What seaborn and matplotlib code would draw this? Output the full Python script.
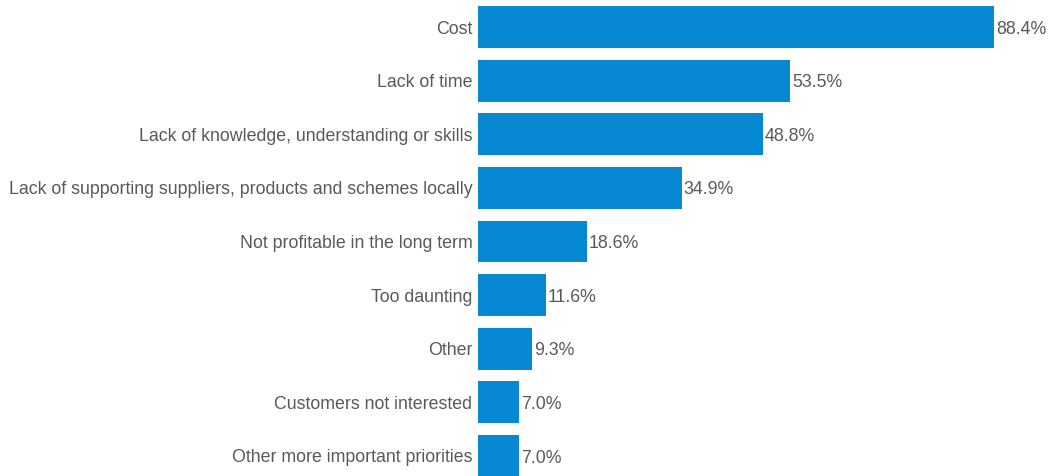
import matplotlib
matplotlib.use("Agg")
import matplotlib.pyplot as plt
import seaborn as sns
import pandas as pd

categories = [
    "Cost",
    "Lack of time",
    "Lack of knowledge, understanding or skills",
    "Lack of supporting suppliers, products and schemes locally",
    "Not profitable in the long term",
    "Too daunting",
    "Other",
    "Customers not interested",
    "Other more important priorities",
]
values = [88.4, 53.5, 48.8, 34.9, 18.6, 11.6, 9.3, 7.0, 7.0]

df = pd.DataFrame({"barrier": categories, "pct": values})

sns.set_theme(style="white")
plt.rcParams["font.family"] = ["Liberation Sans", "DejaVu Sans"]

W, H = 1049, 476
fig = plt.figure(figsize=(W / 100, H / 100), dpi=100)
left_px, right_px = 478, 1049
top_px, bottom_px = 0.2, 482.8
ax = fig.add_axes([left_px / W, (H - bottom_px) / H,
                   (right_px - left_px) / W, (bottom_px - top_px) / H])

bar_color = "#0788D3"
text_color = "#595959"
fs = 12.75

sns.barplot(data=df, x="pct", y="barrier", orient="h", color=bar_color,
            saturation=1, width=0.78, linewidth=0, ax=ax)

for i, v in enumerate(values):
    ax.annotate(f"{v:.1f}%", xy=(v, i), xytext=(1.5, -1.5),
                textcoords="offset points", va="center", ha="left",
                fontsize=fs, color=text_color)

ax.set_xlim(0, 97.8)
ax.set_ylim(8.5, -0.5)
ax.set_xlabel("")
ax.set_ylabel("")
ax.set_xticks([])
ax.tick_params(axis="y", length=0, pad=4, labelsize=fs, labelcolor=text_color)
for s in ax.spines.values():
    s.set_visible(False)

fig.savefig("out.png", dpi=100)
